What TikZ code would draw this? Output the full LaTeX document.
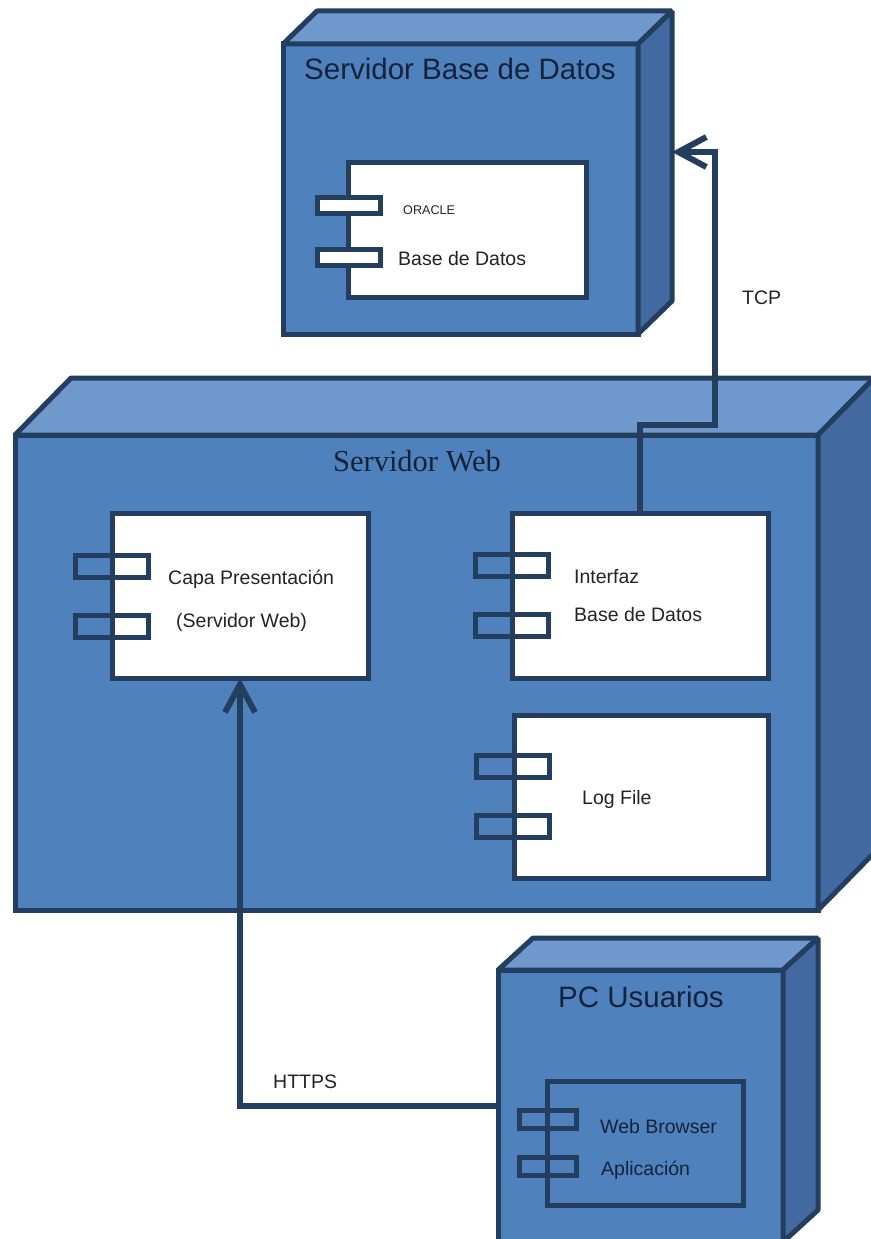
\documentclass[tikz,border=0pt]{standalone}
\usepackage{fontspec}
\setmainfont{Liberation Sans}
\newfontfamily\serifweb{Liberation Serif}
\usepackage{tikz}
\usetikzlibrary{positioning, arrows.meta}
\definecolor{azul}{RGB}{79, 129, 189}
\definecolor{azulclaro}{RGB}{111, 152, 205}
\definecolor{azuloscuro}{RGB}{66, 106, 160}
\definecolor{borde}{RGB}{36, 62, 96}
\definecolor{tituloazul}{RGB}{22, 34, 58}
\definecolor{texto}{RGB}{35, 35, 35}
\tikzset{
  nodo/.style={draw=borde, fill=azul, line width=5, outer sep=0, inner sep=0, anchor=north west},
  techo/.style={draw=borde, fill=azulclaro, line width=5, line join=bevel},
  lado/.style={draw=borde, fill=azuloscuro, line width=5, line join=bevel},
  comp/.style={draw=borde, fill=white, line width=5, outer sep=0, inner sep=0, anchor=north west},
  puerto/.style={draw=borde, line width=5, minimum width=73, minimum height=22, outer sep=0, inner sep=0},
  conector/.style={draw=borde, line width=6, -{Straight Barb[length=28pt,width=30pt]}},
  titulo/.style={font=\fontsize{29.5}{32}\selectfont, text=tituloazul, anchor=base, inner sep=0},
  etiqueta/.style={font=\fontsize{19.5}{22}\selectfont, text=texto, anchor=base west, inner sep=0}
}
% caras de un nodo 3D: nombre, dx, dy
\newcommand{\caras}[3]{%
  \draw[techo] (#1.north west) -- ++(#2,-#3) -- ([shift={(#2,-#3)}]#1.north east) -- (#1.north east) -- cycle;
  \draw[lado] (#1.north east) -- ++(#2,-#3) -- ([shift={(#2,-#3)}]#1.south east) -- (#1.south east) -- cycle;}

\begin{document}
\begin{tikzpicture}[x=1pt, y=-1pt]
  \useasboundingbox (0,0) rectangle (870,1239);
  % servidor base de datos
  \node[nodo, minimum width=355, minimum height=290] (srvbd) at (283,44) {};
  \caras{srvbd}{34}{33}
  \node[titulo] (tsrvbd) at (460,80) {Servidor Base de Datos};
  \node[comp, minimum width=238, minimum height=135] (bd) at (348,162) {};
  \foreach \y [count=\i] in {205,257} { \node[puerto, fill=white, minimum width=63, minimum height=16] (bdp\i) at (348.5,\y) {}; }
  \node[etiqueta, font=\fontsize{12.6}{14}\selectfont] (oracle) at (403,214.5) {ORACLE};
  \node[etiqueta] (bdtxt) at (398,265) {Base de Datos};
  % servidor web
  \node[nodo, minimum width=803, minimum height=475] (srvweb) at (15,435) {};
  \caras{srvweb}{56}{57}
  \node[titulo, font=\serifweb\fontsize{30.5}{32}\selectfont] (tsrvweb) at (417,471) {Servidor Web};
  \node[comp, minimum width=256, minimum height=165] (capa) at (112,513) {};
  \foreach \y [count=\i] in {566,626} { \node[puerto] (capap\i) at (112,\y) {}; }
  \node[etiqueta] (capatxt) at (168,584) {Capa Presentación};
  \node[etiqueta] (capatxtb) at (176,627) {(Servidor Web)};
  \node[comp, minimum width=256, minimum height=165] (interfaz) at (512,513) {};
  \foreach \y [count=\i] in {565,625} { \node[puerto] (intp\i) at (512,\y) {}; }
  \node[etiqueta] (inttxt) at (574,583) {Interfaz};
  \node[etiqueta] (inttxtb) at (574,621) {Base de Datos};
  \node[comp, minimum width=254, minimum height=163] (log) at (514,715) {};
  \foreach \y [count=\i] in {766,826} { \node[puerto] (logp\i) at (513,\y) {}; }
  \node[etiqueta] (logtxt) at (582,804) {Log File};
  % pc usuarios
  \node[nodo, minimum width=285, minimum height=272] (pc) at (498,970) {};
  \caras{pc}{35}{32}
  \node[titulo] (tpc) at (641,1007) {PC Usuarios};
  \node[comp, fill=azul, minimum width=196, minimum height=124] (nav) at (547,1081) {};
  \foreach \y [count=\i] in {1119,1166} { \node[puerto, minimum width=57, minimum height=18] (navp\i) at (547.5,\y) {}; }
  \node[etiqueta, text=tituloazul] (navtxt) at (600,1133) {Web Browser};
  \node[etiqueta, text=tituloazul] (navtxtb) at (601,1175) {Aplicación};
  % conectores
  \coordinate (bdlado) at (672,152);
  \draw[conector] (pc.west) -| (capa.south);
  \draw[conector] (interfaz.north) |- (715,425) |- (bdlado);
  \node[etiqueta] (https) at (273,1088) {HTTPS};
  \node[etiqueta] (tcp) at (742,304) {TCP};
\end{tikzpicture}
\end{document}
